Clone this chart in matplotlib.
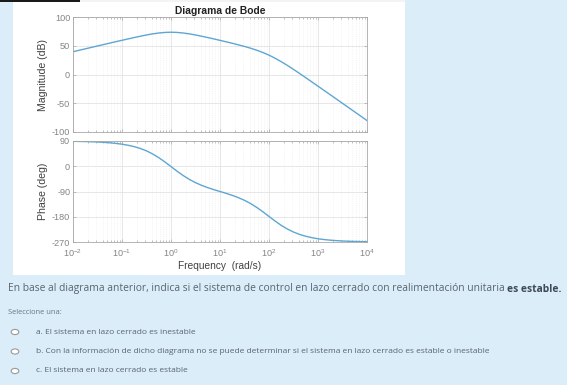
import matplotlib
matplotlib.use("Agg")
import matplotlib.pyplot as plt
from matplotlib.patches import Rectangle, Circle
from matplotlib.ticker import LogLocator, NullFormatter

# values, every eighth of a decade from 1e-2 to 1e4 rad/s
freq = [0.01, 0.01334, 0.01778, 0.02371, 0.03162, 0.04217, 0.05623, 0.07499,
        0.1, 0.1334, 0.1778, 0.2371, 0.3162, 0.4217, 0.5623, 0.7499,
        1.0, 1.334, 1.778, 2.371, 3.162, 4.217, 5.623, 7.499,
        10.0, 13.34, 17.78, 23.71, 31.62, 42.17, 56.23, 74.99,
        100.0, 133.4, 177.8, 237.1, 316.2, 421.7, 562.3, 749.9,
        1000.0, 1334.0, 1778.0, 2371.0, 3162.0, 4217.0, 5623.0, 7499.0, 10000.0]
mag_db = [40.0, 42.5, 45.0, 47.5, 50.0, 52.5, 55.0, 57.5,
          59.9, 62.3, 64.7, 67.0, 69.2, 71.1, 72.6, 73.6,
          74.0, 73.6, 72.6, 71.1, 69.2, 67.0, 64.7, 62.3,
          59.8, 57.3, 54.7, 52.0, 49.2, 46.1, 42.6, 38.6,
          34.0, 28.6, 22.6, 16.1, 9.2, 2.0, -5.3, -12.7,
          -20.1, -27.6, -35.0, -42.5, -50.0, -57.5, -65.0, -72.5, -80.0]
phase_deg = [88.9, 88.5, 88.0, 87.3, 86.4, 85.2, 83.6, 81.4,
             78.6, 74.8, 69.8, 63.3, 54.9, 43.8, 30.6, 15.4,
             -1.1, -17.8, -33.3, -46.9, -58.5, -68.1, -76.3, -83.4,
             -90.0, -96.6, -103.7, -111.9, -121.5, -133.0, -146.7, -162.2,
             -178.9, -195.4, -210.7, -223.8, -234.5, -243.0, -249.6, -254.6,
             -258.5, -261.3, -263.5, -265.1, -266.4, -267.3, -268.0, -268.5, -268.9]

mag_ticks = [-100, -50, 0, 50, 100]
phase_ticks = [-270, -180, -90, 0, 90]

title = "Diagrama de Bode"
question = "En base al diagrama anterior, indica si el sistema de control en lazo cerrado con realimentación unitaria "
question_bold = "es estable."
prompt = "Seleccione una:"
options = [
    "a. El sistema en lazo cerrado es inestable",
    "b. Con la información de dicho diagrama no se puede determinar si el sistema en lazo cerrado es estable o inestable",
    "c. El sistema en lazo cerrado es estable",
]

BG = "#DAEDF8"
LINE = "#5EA6D3"
TICK = "#858585"
SPINE = "#A8A8A8"
LABEL = "#404040"

W, H = 567, 385


def fx(px):
    return px / W


def fy(py):
    return 1 - py / H


def style_axis(ax):
    ax.set_zorder(5)
    ax.set_xscale("log")
    ax.set_xlim(1e-2, 1e4)
    ax.xaxis.set_major_locator(LogLocator(base=10, numticks=10))
    ax.xaxis.set_minor_locator(LogLocator(base=10, subs=range(2, 10), numticks=10))
    ax.xaxis.set_minor_formatter(NullFormatter())
    ax.grid(True, which="major", color="#E3E3E3", linewidth=0.6)
    ax.grid(True, which="minor", axis="x", color="#ECECEC", linewidth=0.5, linestyle=":")
    ax.set_axisbelow(True)
    for s in ax.spines.values():
        s.set_color(SPINE)
        s.set_linewidth(0.6)
    ax.tick_params(which="both", direction="in", top=True, right=True,
                   colors=SPINE, labelcolor=TICK, labelsize=6.6, width=0.5)
    ax.tick_params(which="major", length=2.5)
    ax.tick_params(which="minor", length=1.3)


plt.rcParams.update({
    "font.family": ["Liberation Sans", "DejaVu Sans"],
    "mathtext.default": "regular",
    "axes.unicode_minus": False,
})

fig = plt.figure(figsize=(W / 100, H / 100), dpi=100, facecolor=BG)

# white panel that holds the plot, and dark strip at the top
fig.patches.append(Rectangle((fx(13), fy(275)), fx(405) - fx(13), fy(2) - fy(275),
                             transform=fig.transFigure, facecolor="white", edgecolor="none", zorder=0))
fig.patches.append(Rectangle((fx(13), fy(2)), fx(405) - fx(13), 2 / H,
                             transform=fig.transFigure, facecolor="#F3F3F3", edgecolor="none", zorder=0))
fig.patches.append(Rectangle((0, fy(2)), fx(80), 2 / H,
                             transform=fig.transFigure, facecolor="#1A1A1A", edgecolor="none", zorder=1))

ax1 = fig.add_axes([fx(73), fy(132), fx(367) - fx(73), fy(17.3) - fy(132)])
ax1.plot(freq, mag_db, color=LINE, linewidth=1.0)
style_axis(ax1)
ax1.set_ylim(-100, 100)
ax1.set_yticks(mag_ticks)
ax1.tick_params(axis="x", labelbottom=False)
ax1.tick_params(axis="y", pad=2)
ax1.set_ylabel("Magnitude (dB)", fontsize=7.6, color=LABEL, labelpad=3)
ax1.set_title(title, fontsize=7.4, fontweight="bold", color="#222222", pad=2.5)

ax2 = fig.add_axes([fx(73), fy(242), fx(367) - fx(73), fy(141) - fy(242)])
ax2.plot(freq, phase_deg, color=LINE, linewidth=1.0)
style_axis(ax2)
ax2.set_ylim(-270, 90)
ax2.set_yticks(phase_ticks)
ax2.tick_params(axis="y", pad=2)
ax2.set_ylabel("Phase (deg)", fontsize=7.6, color=LABEL, labelpad=3)
ax2.set_xlabel("Frequency  (rad/s)", fontsize=7.3, color=LABEL, labelpad=1.5)
ax2.tick_params(axis="x", pad=4)

# question text below the plot
qfont = ["Open Sans", "DejaVu Sans"]
t = fig.text(fx(8), fy(289), question, fontsize=7.35, color="#5A6470",
             family=qfont, va="center", ha="left")
fig.canvas.draw()
bb = t.get_window_extent()
fig.text(bb.x1 / W, fy(289), question_bold, fontsize=7.35, color="#3E4A55",
         family=qfont, fontweight="bold", va="center", ha="left")

fig.text(fx(8), fy(313), prompt, fontsize=5.4, color="#6A7580", family=qfont, va="center")
for i, opt in enumerate(options):
    y = 332 + i * 19.5
    fig.patches.append(Circle((fx(15), fy(y)), 3.8 / W, transform=fig.transFigure,
                              facecolor="white", edgecolor="#9A9A9A", linewidth=0.8))
    fig.text(fx(36), fy(y), opt, fontsize=6.0, color="#5A6470", family=qfont, va="center")

fig.savefig("out.png", dpi=100, facecolor=BG)
